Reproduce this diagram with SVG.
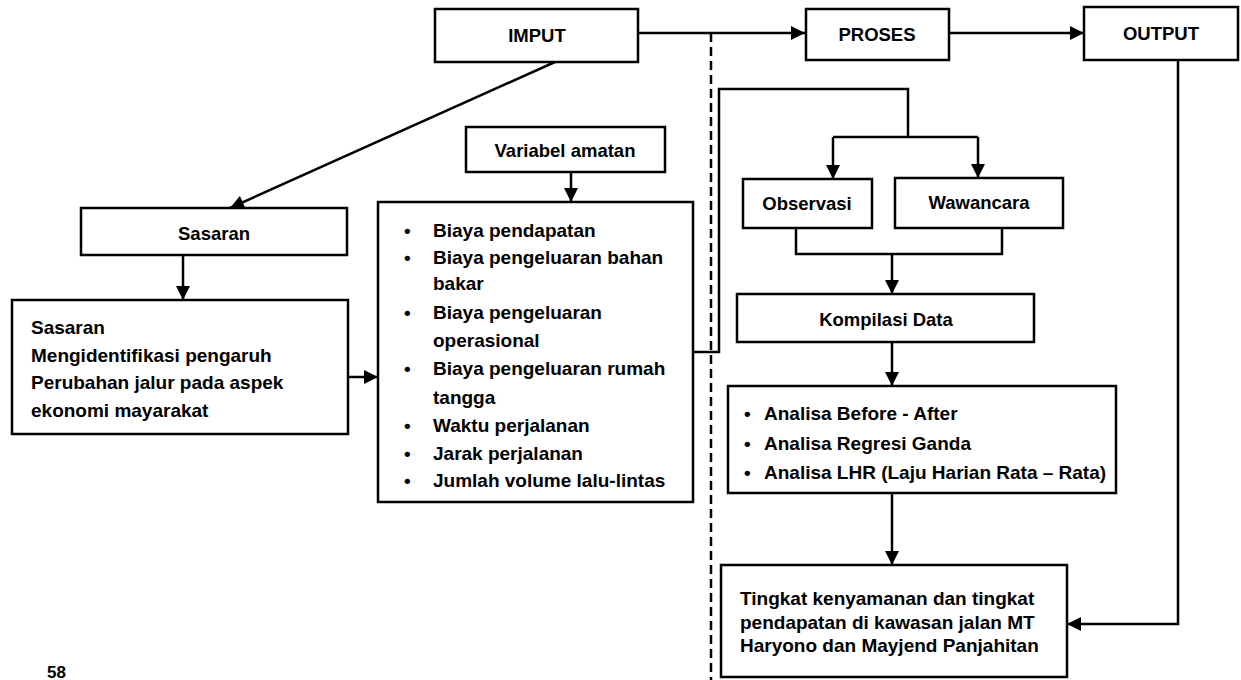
<svg xmlns="http://www.w3.org/2000/svg" width="1241" height="680" viewBox="0 0 1241 680">
<style>
.box{fill:#fff;stroke:#000;stroke-width:2.5}
.ln{fill:none;stroke:#000;stroke-width:2.5}
.arr{marker-end:url(#ah)}
.dash{fill:none;stroke:#000;stroke-width:2.5;stroke-dasharray:9 5}
text{font-family:"Liberation Sans",Arial,sans-serif;font-weight:bold;font-size:19px;fill:#000}
.h{font-size:18.5px;text-anchor:middle}
</style>
<defs>
<marker id="ah" viewBox="0 0 10 10" refX="10" refY="5" markerWidth="6" markerHeight="5.6" markerUnits="strokeWidth" orient="auto">
<path d="M0,0 L10,5 L0,10 Z" fill="#000"/>
</marker>
</defs>
<rect width="1241" height="680" fill="#fff"/>

<g id="connectors">
<line class="dash" x1="711" y1="33" x2="711" y2="680"/>
<line class="ln arr" x1="638" y1="33" x2="805" y2="33"/>
<line class="ln arr" x1="949" y1="33" x2="1084" y2="33"/>
<line class="ln arr" x1="555" y1="62" x2="230" y2="208"/>
<line class="ln arr" x1="183" y1="255" x2="183" y2="300"/>
<line class="ln arr" x1="348" y1="377" x2="378" y2="377"/>
<line class="ln arr" x1="571" y1="172" x2="571" y2="202"/>
<polyline class="ln" points="693,352 719,352 719,89 908,89 908,137"/>
<line class="ln" x1="833" y1="137" x2="978" y2="137"/>
<line class="ln arr" x1="833" y1="137" x2="833" y2="179"/>
<line class="ln arr" x1="978" y1="137" x2="978" y2="178"/>
<polyline class="ln" points="796,228 796,254 1002,254 1002,228"/>
<line class="ln arr" x1="892" y1="254" x2="892" y2="294"/>
<line class="ln arr" x1="892" y1="342" x2="892" y2="386"/>
<line class="ln arr" x1="892" y1="493" x2="892" y2="565"/>
<polyline class="ln arr" points="1178,60 1178,624 1067,624"/>
</g>

<g id="imput">
<rect class="box" x="435" y="9" width="203" height="53"/>
<text class="h" x="537" y="42">IMPUT</text>
</g>
<g id="proses">
<rect class="box" x="806" y="9" width="143" height="51"/>
<text class="h" x="877" y="41">PROSES</text>
</g>
<g id="output">
<rect class="box" x="1084" y="7" width="154" height="53"/>
<text class="h" x="1161" y="40">OUTPUT</text>
</g>
<g id="sasaran">
<rect class="box" x="81" y="208" width="266" height="47"/>
<text class="h" x="214" y="240">Sasaran</text>
</g>
<g id="sasaran-detail">
<rect class="box" x="12" y="300" width="336" height="134"/>
<text x="31" y="334">Sasaran</text>
<text x="31" y="362">Mengidentifikasi pengaruh</text>
<text x="31" y="389">Perubahan jalur pada aspek</text>
<text x="31" y="417">ekonomi mayarakat</text>
</g>
<g id="variabel-amatan">
<rect class="box" x="466" y="127" width="199" height="45"/>
<text class="h" x="565" y="157">Variabel amatan</text>
</g>
<g id="variabel-list">
<rect class="box" x="378" y="202" width="315" height="300"/>
<text x="404" y="237">•</text><text x="433" y="237">Biaya pendapatan</text>
<text x="404" y="264">•</text><text x="433" y="264">Biaya pengeluaran bahan</text>
<text x="433" y="290">bakar</text>
<text x="404" y="319">•</text><text x="433" y="319">Biaya pengeluaran</text>
<text x="433" y="347">operasional</text>
<text x="404" y="375">•</text><text x="433" y="375">Biaya pengeluaran rumah</text>
<text x="433" y="404">tangga</text>
<text x="404" y="432">•</text><text x="433" y="432">Waktu perjalanan</text>
<text x="404" y="460">•</text><text x="433" y="460">Jarak perjalanan</text>
<text x="404" y="487">•</text><text x="433" y="487">Jumlah volume lalu-lintas</text>
</g>
<g id="observasi">
<rect class="box" x="743" y="179" width="129" height="49"/>
<text class="h" x="807" y="210">Observasi</text>
</g>
<g id="wawancara">
<rect class="box" x="895" y="178" width="168" height="50"/>
<text class="h" x="979" y="209">Wawancara</text>
</g>
<g id="kompilasi">
<rect class="box" x="737" y="294" width="297" height="48"/>
<text class="h" x="886" y="326">Kompilasi Data</text>
</g>
<g id="analisa">
<rect class="box" x="728" y="386" width="388" height="107"/>
<text x="744" y="420">•</text><text x="764" y="420">Analisa Before - After</text>
<text x="744" y="450">•</text><text x="764" y="450">Analisa Regresi Ganda</text>
<text x="744" y="479">•</text><text x="764" y="479">Analisa LHR (Laju Harian Rata – Rata)</text>
</g>
<g id="hasil">
<rect class="box" x="721" y="565" width="346" height="112"/>
<text x="740" y="605">Tingkat kenyamanan dan tingkat</text>
<text x="740" y="629">pendapatan di kawasan jalan MT</text>
<text x="740" y="652">Haryono dan Mayjend Panjahitan</text>
</g>
<text x="47" y="678" style="font-size:17px">58</text>
</svg>
